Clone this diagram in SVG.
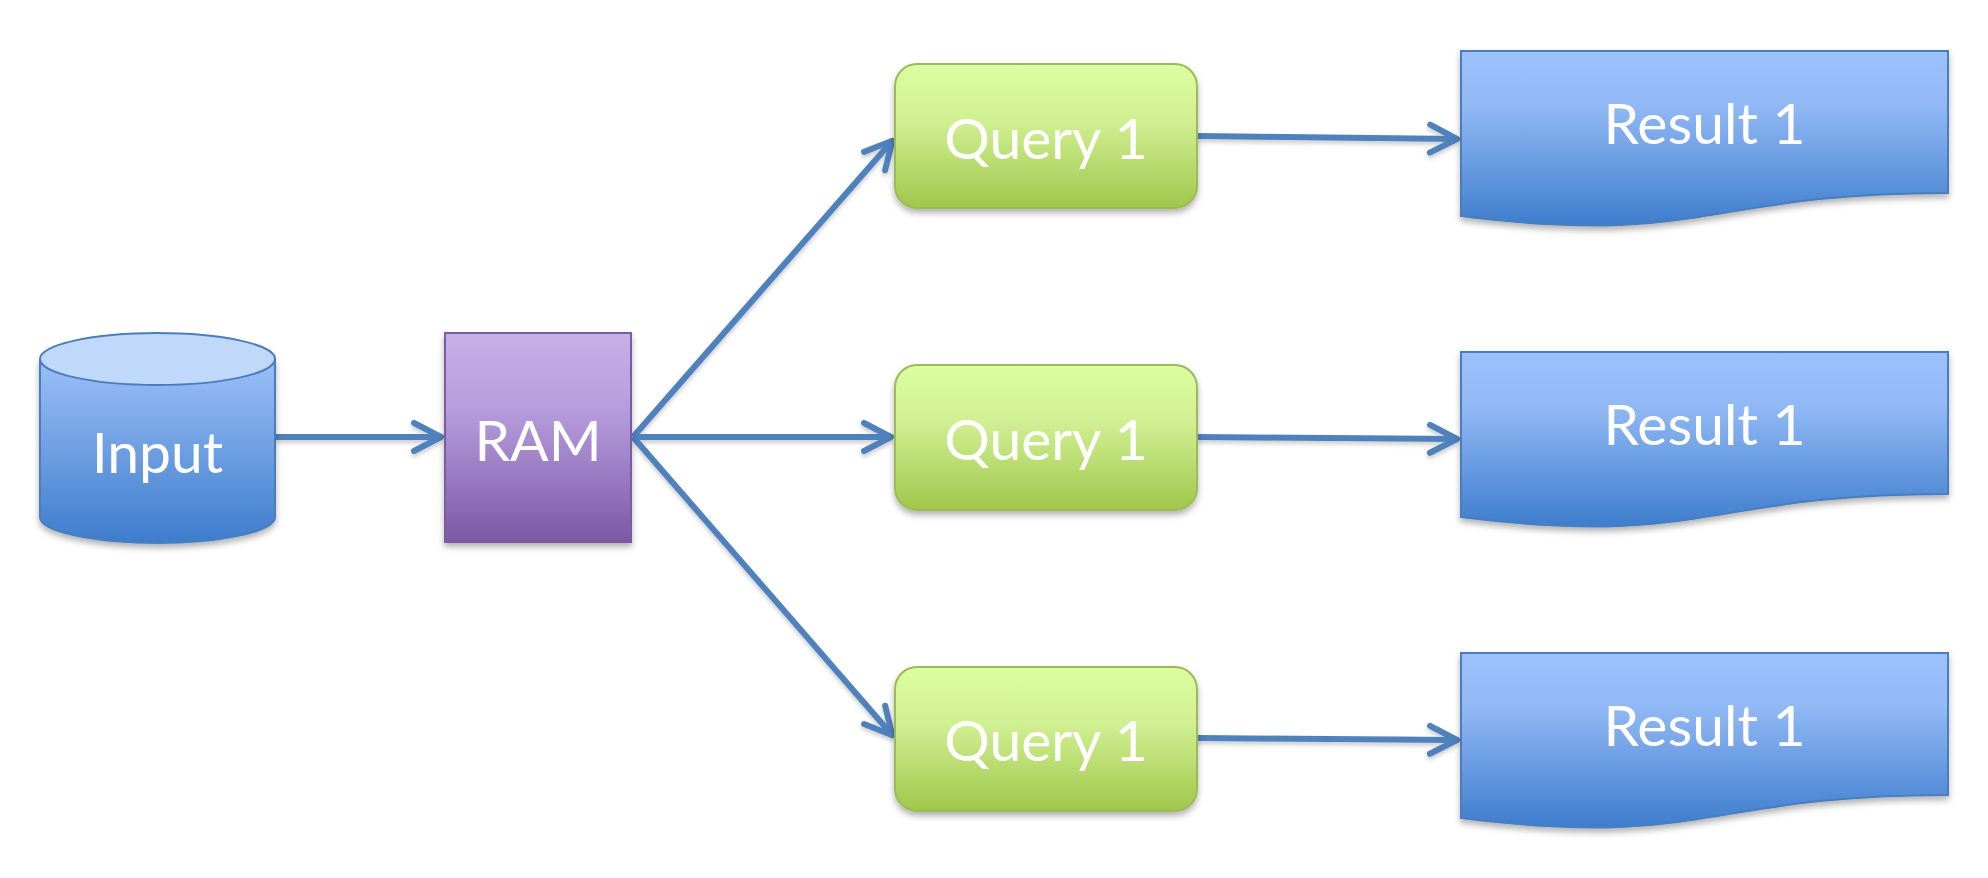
<svg xmlns="http://www.w3.org/2000/svg" width="1988" height="878" viewBox="0 0 1988 878">
<style>
.lbl{font-family:Lato,"Open Sans","Liberation Sans",sans-serif;font-size:57px;fill:#ffffff;text-anchor:middle}
.conn{fill:none;stroke:#4f81bd;stroke-width:6;marker-end:url(#arr)}
.q{fill:url(#gq);stroke:#9bbb59;stroke-width:2}
.r{fill:url(#gr);stroke:#4a7ebb;stroke-width:2}
</style>
<defs>
<linearGradient id="gcyl" x1="0" y1="0" x2="0" y2="1"><stop offset="0" stop-color="#9bc0f8"/><stop offset="1" stop-color="#3e7dcc"/></linearGradient>
<linearGradient id="gram" x1="0" y1="0" x2="0" y2="1"><stop offset="0" stop-color="#c7afe9"/><stop offset="0.35" stop-color="#b79ede"/><stop offset="1" stop-color="#7d58a6"/></linearGradient>
<linearGradient id="gq" x1="0" y1="0" x2="0" y2="1"><stop offset="0" stop-color="#dcfea0"/><stop offset="0.4" stop-color="#d0ef92"/><stop offset="1" stop-color="#a0c74b"/></linearGradient>
<linearGradient id="gr" x1="0" y1="0" x2="0" y2="1"><stop offset="0" stop-color="#9bc2fd"/><stop offset="0.3" stop-color="#92b9f5"/><stop offset="1" stop-color="#3e7dcd"/></linearGradient>
<filter id="sh" x="-10%" y="-10%" width="120%" height="130%"><feDropShadow dx="0" dy="4" stdDeviation="3" flood-color="#000" flood-opacity="0.3"/></filter>
<filter id="sha" x="-10%" y="-10%" width="120%" height="130%"><feDropShadow dx="0" dy="3" stdDeviation="2" flood-color="#000" flood-opacity="0.2"/></filter>
<marker id="arr" markerUnits="userSpaceOnUse" markerWidth="44" markerHeight="44" viewBox="-38 -22 44 44" refX="0" refY="0" orient="auto">
<path d="M-28,-14 L-1,0 L-28,14" fill="none" stroke="#4f81bd" stroke-width="6" stroke-linecap="round" stroke-linejoin="round"/>
</marker>
</defs>
<rect width="1988" height="878" fill="#ffffff"/>
<g id="connectors" filter="url(#sha)">
<line class="conn" x1="275" y1="437" x2="442" y2="437"/>
<line class="conn" x1="633" y1="437" x2="893" y2="140"/>
<line class="conn" x1="633" y1="437" x2="892" y2="437"/>
<line class="conn" x1="633" y1="437" x2="893" y2="736"/>
<line class="conn" x1="1197" y1="136" x2="1458" y2="139"/>
<line class="conn" x1="1197" y1="437" x2="1458" y2="439"/>
<line class="conn" x1="1197" y1="738" x2="1458" y2="740"/>
</g>
<g id="input">
<path d="M40,359 L40,517 A117.5,26 0 0 0 275,517 L275,359 Z" fill="url(#gcyl)" stroke="#4a7ebb" stroke-width="2" filter="url(#sh)"/>
<ellipse cx="157.5" cy="359" rx="117.5" ry="26" fill="#c0d9fb" stroke="#4a7ebb" stroke-width="2"/>
<text class="lbl" x="157.5" y="473">Input</text>
</g>
<g id="ram">
<rect x="445" y="333" width="186" height="209" fill="url(#gram)" stroke="#7a5c9f" stroke-width="2" filter="url(#sh)"/>
<text class="lbl" x="538" y="461">RAM</text>
</g>
<g id="query1">
<rect class="q" x="895" y="64" width="302" height="144" rx="22" filter="url(#sh)"/>
<text class="lbl" x="1046" y="159">Query 1</text>
</g>
<g id="query2">
<rect class="q" x="895" y="365" width="302" height="145" rx="22" filter="url(#sh)"/>
<text class="lbl" x="1046" y="460">Query 1</text>
</g>
<g id="query3">
<rect class="q" x="895" y="667" width="302" height="144" rx="22" filter="url(#sh)"/>
<text class="lbl" x="1046" y="761">Query 1</text>
</g>
<g id="result1">
<path class="r" d="M1461,51 L1948,51 L1948,193 C1704.5,193 1704.5,247 1461,216 Z" filter="url(#sh)"/>
<text class="lbl" x="1704.5" y="144">Result 1</text>
</g>
<g id="result2">
<path class="r" d="M1461,352 L1948,352 L1948,494 C1704.5,494 1704.5,548 1461,517 Z" filter="url(#sh)"/>
<text class="lbl" x="1704.5" y="445">Result 1</text>
</g>
<g id="result3">
<path class="r" d="M1461,653 L1948,653 L1948,795 C1704.5,795 1704.5,849 1461,818 Z" filter="url(#sh)"/>
<text class="lbl" x="1704.5" y="746">Result 1</text>
</g>
</svg>
